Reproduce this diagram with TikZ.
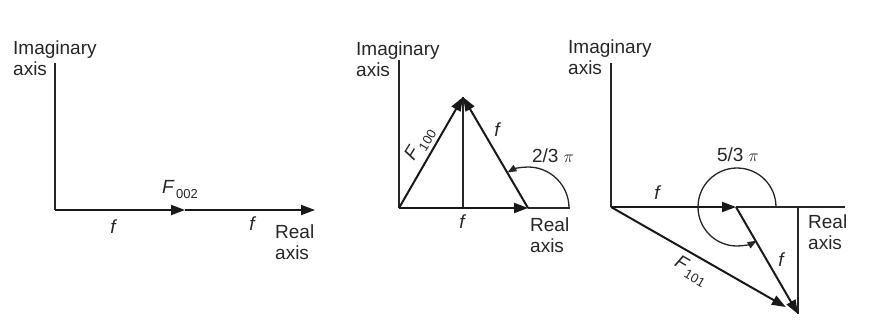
\documentclass[tikz,border=0pt]{standalone}
\usepackage{fontspec}
\setmainfont{Liberation Sans}
\usetikzlibrary{arrows.meta}
\tikzset{
  lbl/.style={font=\fontsize{19}{21}\selectfont, inner sep=0pt, align=left, text=black!85},
  flbl/.style={font=\fontsize{19}{21}\selectfont\itshape, inner sep=0pt, text=black!85},
  axisline/.style={line width=1.3pt, black!85},
  vec/.style={line width=2pt, black!90, -{Triangle[length=14pt,width=10pt]}},
  arcvec/.style={line width=1.3pt, black!85, -{Triangle[length=9pt,width=7pt]}},
}
\newcommand{\subF}[1]{\textit{F}\kern1.5pt\raisebox{-5pt}{\fontsize{13}{13}\selectfont #1}}
\begin{document}
\begin{tikzpicture}[x=1pt,y=-1pt]
\useasboundingbox (0,0) rectangle (869,322);
% ---------------- Panel 1 ----------------
\coordinate (o1) at (55,210);
\coordinate (t1) at (55,63);
\coordinate (m1) at (185,210);
\coordinate (e1) at (315,210);
\node[lbl, anchor=west] (im1) at (13,58) {Imaginary\\axis};
\draw[axisline] (t1) -- (o1);
\draw[vec] (o1) -- (m1);
\draw[vec] (m1) -- (e1);
\node[lbl, anchor=west] (re1) at (275,242) {Real\\axis};
\node[lbl] (F002) at (180,190) {\subF{002}};
\node[flbl] (f1a) at (113,227) {f};
\node[flbl] (f1b) at (252,224) {f};
% ---------------- Panel 2 ----------------
\coordinate (o2) at (399,208);
\coordinate (t2) at (399,60);
\coordinate (e2) at (528,208);
\coordinate (ap2) at (463,97);
\coordinate (b2) at (463,208);
\coordinate (x2) at (570,208);
\coordinate (a2s) at (569,208);
\node[lbl, anchor=west] (im2) at (356,59) {Imaginary\\axis};
\draw[axisline] (t2) -- (o2);
\draw[axisline] (e2) -- (x2);
\draw[axisline] (ap2) -- (b2);
\draw[vec] (o2) -- (e2);
\draw[vec] (o2) -- (ap2);
\draw[vec] (e2) -- (ap2);
\draw[arcvec] (a2s) arc[start angle=0, end angle=-120, radius=41];
\node[lbl, anchor=west] (re2) at (530,235) {Real\\axis};
\node[lbl, rotate=58] (F100) at (420,144) {\subF{100}};
\node[flbl] (f2a) at (497,130) {f};
\node[flbl] (f2b) at (462,222) {f};
\node[lbl] (ang2) at (553,156) {2/3 $\pi$};
% ---------------- Panel 3 ----------------
\coordinate (o3) at (611,207);
\coordinate (t3) at (611,63);
\coordinate (m3) at (736,207);
\coordinate (x3) at (845,207);
\coordinate (e3) at (798,314);
\coordinate (v3) at (798,207);
\coordinate (a3s) at (776,207);
\node[lbl, anchor=west] (im3) at (568,57) {Imaginary\\axis};
\draw[axisline] (t3) -- (o3);
\draw[axisline] (m3) -- (x3);
\draw[axisline] (v3) -- (e3);
\draw[vec] (o3) -- (m3);
\draw[vec] (m3) -- (e3);
\draw[vec, shorten >=14pt] (o3) -- (e3);
\draw[arcvec] (a3s) arc[start angle=0, end angle=-300, radius=39];
\node[lbl, anchor=west] (re3) at (808,232) {Real\\axis};
\node[lbl, rotate=-30] (F101) at (691,271) {\subF{101}};
\node[flbl] (f3a) at (657,193) {f};
\node[flbl] (f3b) at (781,260) {f};
\node[lbl] (ang3) at (738,155) {5/3 $\pi$};
\end{tikzpicture}
\end{document}
